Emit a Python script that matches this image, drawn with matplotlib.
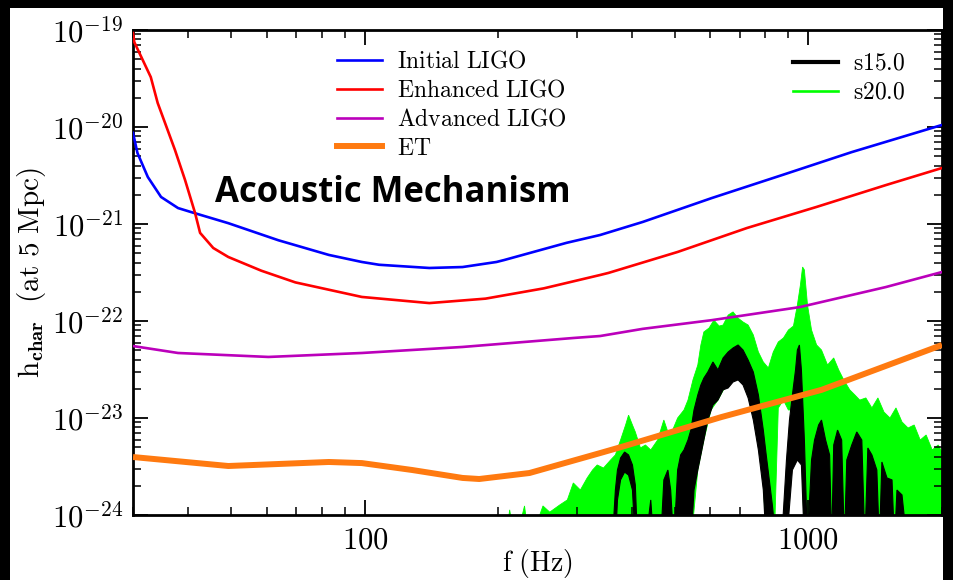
import math
import matplotlib
matplotlib.use('Agg')
import matplotlib.pyplot as plt
from matplotlib.lines import Line2D
from matplotlib.patches import Rectangle
from matplotlib.ticker import LogLocator, NullFormatter, FuncFormatter, FixedLocator

plt.rcParams['mathtext.fontset'] = 'cm'
plt.rcParams['font.family'] = ['DejaVu Serif']

# ---------------- data ----------------
x_ticks = [100, 1000]
y_ticks = [1e-24, 1e-23, 1e-22, 1e-21, 1e-20, 1e-19]

f_init = [30, 30.7, 32.4, 34.7, 37.9, 40.5, 49.2, 63.8, 82.9, 98.4, 107.6, 139.7,
          166, 198, 206, 285, 339, 423, 605, 873, 1250, 2000]
h_init = [8.7e-21, 5.4e-21, 3.05e-21, 1.9e-21, 1.46e-21, 1.33e-21, 1.02e-21, 6.8e-22,
          4.8e-22, 4.06e-22, 3.8e-22, 3.52e-22, 3.6e-22, 4.06e-22, 4.25e-22, 6.4e-22,
          7.7e-22, 1.05e-21, 1.85e-21, 3.2e-21, 5.5e-21, 1.05e-20]

f_enh = [30, 30.2, 32.9, 34.1, 37.3, 39.3, 41.4, 42.5, 45.5, 49.2, 58.4, 69.7, 98.4,
         139.7, 187, 253, 339, 354, 507, 727, 1043, 1495, 2000]
h_enh = [9.3e-20, 7.5e-20, 3.27e-20, 1.77e-20, 5.8e-21, 2.85e-21, 1.3e-21, 8.1e-22,
         5.66e-22, 4.57e-22, 3.3e-22, 2.5e-22, 1.77e-22, 1.53e-22, 1.7e-22, 2.17e-22,
         2.98e-22, 3.13e-22, 5.15e-22, 9.1e-22, 1.5e-21, 2.52e-21, 3.78e-21]

f_adv = [30, 37.9, 60.6, 98.4, 166, 295, 339, 423, 605, 955, 1495, 2000]
h_adv = [5.52e-23, 4.68e-23, 4.26e-23, 4.68e-23, 5.4e-23, 6.68e-23, 7.0e-23, 8.3e-23,
         1.02e-22, 1.39e-22, 2.24e-22, 3.2e-22]

f_et = [30, 49.2, 82.9, 98.4, 127.8, 166, 181, 235, 339, 377, 635, 1070, 2000]
h_et = [3.96e-24, 3.2e-24, 3.52e-24, 3.43e-24, 2.91e-24, 2.41e-24, 2.35e-24, 2.71e-24,
        4.35e-24, 5.0e-24, 1.02e-23, 1.95e-23, 5.66e-23]

# s20.0 spectrum: upper envelope (left->right) and lower envelope (right->left)
f_s20_top = [207, 212, 218, 229, 235, 252, 261, 275, 286, 295, 306, 317, 326, 334, 345,
             358, 367, 377, 387, 393, 401, 407, 418, 429, 441, 457, 472, 482, 494, 507,
             524, 535, 549, 563, 572, 581, 597, 612, 629, 642, 659, 676, 694, 712, 731,
             751, 771, 791, 812, 833, 855, 878, 901, 925, 944, 959, 970, 979, 995, 1016,
             1043, 1070, 1104, 1140, 1170, 1201, 1239, 1272, 1305, 1347, 1390, 1434,
             1480, 1527, 1575, 1625, 1677, 1731, 1786, 1842, 1901, 1961, 2000]
h_s20_top = [5e-25, 1.13e-24, 5e-25, 1.24e-24, 5e-25, 1.24e-24, 1.07e-24, 1.27e-24,
             1.43e-24, 2.14e-24, 1.81e-24, 2.41e-24, 2.91e-24, 3.28e-24, 3.05e-24,
             3.69e-24, 4.16e-24, 5.93e-24, 8.47e-24, 1.07e-23, 8.47e-24, 7.18e-24,
             4.91e-24, 5.27e-24, 4.68e-24, 5.93e-24, 9.53e-24, 7.18e-24, 7.51e-24,
             1.0e-23, 1.21e-23, 1.53e-23, 2.47e-23, 3.52e-23, 5.66e-23, 7.71e-23,
             8.47e-23, 1.02e-22, 8.87e-23, 9.09e-23, 1.15e-22, 1.24e-22, 1.07e-22,
             9.77e-23, 9.09e-23, 7.18e-23, 4.79e-23, 3.78e-23, 3.28e-23, 4.79e-23,
             6.08e-23, 6.68e-23, 8.07e-23, 8.87e-23, 1.46e-22, 2.35e-22, 3.6e-22,
             3.36e-22, 1.46e-22, 8.07e-23, 5.66e-23, 5.02e-23, 3.52e-23, 4.16e-23,
             3.13e-23, 2.47e-23, 1.95e-23, 1.73e-23, 1.53e-23, 1.61e-23, 1.27e-23,
             1.61e-23, 1.15e-23, 1.0e-23, 1.27e-23, 9.1e-24, 7.89e-24, 8.47e-24,
             5.93e-24, 6.68e-24, 4.68e-24, 5.27e-24, 4.46e-24]
f_s20_low = [2000, 1016, 979, 959, 925, 901, 878, 855, 837, 803, 791, 771, 751, 731,
             705, 680, 652, 625, 603, 581, 563, 543, 207]
h_s20_low = [5e-25, 5e-25, 5e-25, 1.5e-23, 1.21e-23, 1.21e-23, 1.53e-23, 1.27e-23,
             5e-25, 5e-25, 2.3e-24, 5.93e-24, 1.21e-23, 1.95e-23, 2.58e-23, 2.77e-23,
             2.19e-23, 1.53e-23, 1.21e-23, 5.93e-24, 2.91e-24, 5e-25, 5e-25]

# s15.0 spectrum
f_s15_top = [361, 367, 371, 377, 385, 393, 401, 407, 412, 429, 441, 448, 464, 472, 482,
             489, 497, 507, 515, 524, 535, 543, 552, 563, 572, 581, 593, 609, 625, 642,
             659, 676, 694, 712, 731, 751, 771, 791, 803, 816, 829, 846, 869, 892, 906,
             920, 935, 944, 954, 964, 979, 995, 1016, 1032, 1054, 1070, 1093, 1116,
             1128, 1140, 1163, 1188, 1205, 1220, 1252, 1285, 1319, 1340, 1361, 1390,
             1426, 1445, 1464, 1503, 1543, 1563, 1583, 1625, 1669]
h_s15_top = [5e-25, 1.81e-24, 2.91e-24, 3.87e-24, 4.46e-24, 4.16e-24, 3.28e-24, 2.04e-24,
             5e-25, 5e-25, 1.43e-24, 5e-25, 5e-25, 2.3e-24, 2.91e-24, 1.81e-24, 5e-25,
             2.91e-24, 4.16e-24, 4.68e-24, 5.93e-24, 7.51e-24, 1.21e-23, 1.73e-23,
             2.19e-23, 2.58e-23, 2.98e-23, 3.78e-23, 3.13e-23, 4.16e-23, 4.79e-23,
             5.27e-23, 5.66e-23, 5.02e-23, 3.96e-23, 2.98e-23, 1.73e-23, 7.51e-24,
             4.16e-24, 2.3e-24, 1.27e-24, 5e-25, 5e-25, 3.69e-24, 9.53e-24, 1.73e-23,
             3.13e-23, 5.02e-23, 5.66e-23, 3.13e-23, 5.93e-24, 5e-25, 3.69e-24,
             5.93e-24, 8.47e-24, 9.53e-24, 5.93e-24, 4.16e-24, 5e-25, 5.27e-24,
             7.51e-24, 5.93e-24, 5e-25, 3.69e-24, 5.27e-24, 7.18e-24, 5.93e-24, 5e-25,
             4.91e-24, 4.16e-24, 2.91e-24, 5e-25, 3.52e-24, 2.41e-24, 2.3e-24, 5e-25,
             1.81e-24, 1.61e-24, 5e-25]
f_s15_low = [1669, 995, 979, 964, 944, 920, 892, 829, 803, 791, 771, 751, 731, 712, 694,
             676, 659, 642, 625, 609, 593, 581, 572, 563, 552, 543, 407, 401, 393, 385,
             377, 371, 367, 361]
h_s15_low = [5e-25, 5e-25, 5e-25, 3.28e-24, 3.69e-24, 2.91e-24, 5e-25, 5e-25, 5e-25,
             1.81e-24, 4.68e-24, 9.53e-24, 1.61e-23, 2.19e-23, 2.47e-23, 2.35e-23,
             2.04e-23, 1.95e-23, 1.53e-23, 1.36e-23, 9.53e-24, 5.93e-24, 4.16e-24,
             2.91e-24, 1.81e-24, 5e-25, 5e-25, 1.81e-24, 2.58e-24, 2.77e-24, 2.3e-24,
             1.43e-24, 5e-25, 5e-25]

det_labels = [r'$\mathrm{Initial\ LIGO}$', r'$\mathrm{Enhanced\ LIGO}$',
              r'$\mathrm{Advanced\ LIGO}$', r'$\mathrm{ET}$']
sn_labels = [r'$\mathrm{s15.0}$', r'$\mathrm{s20.0}$']

c_blue, c_red, c_purple, c_orange = '#0000FF', '#FF0000', '#BB00BB', '#FF7A10'
c_green = '#00FF00'

# ---------------- figure ----------------
W, H = 954, 580
fig = plt.figure(figsize=(W / 100, H / 100), dpi=100, facecolor='white')
# black screen border (top, left, right strips)
for (x0, y0, w, h) in [(0, H - 8, W, 8), (0, 0, 10, H), (943, 0, W - 943, H)]:
    fig.add_artist(Rectangle((x0 / W, y0 / H), w / W, h / H, transform=fig.transFigure,
                             facecolor='black', edgecolor='none', zorder=10))

ax = fig.add_axes([133 / W, 65 / H, (942 - 133) / W, (515 - 30) / H])
ax.set_facecolor('white')

ax.fill(f_s20_top + f_s20_low, h_s20_top + h_s20_low, color=c_green, lw=0.6, zorder=1)
ax.fill(f_s15_top + f_s15_low, h_s15_top + h_s15_low, color='black', lw=0.8, zorder=2)

ax.plot(f_init, h_init, color=c_blue, lw=1.9, zorder=4)
ax.plot(f_enh, h_enh, color=c_red, lw=1.9, zorder=4)
ax.plot(f_adv, h_adv, color=c_purple, lw=1.9, zorder=4)
ax.plot(f_et, h_et, color=c_orange, lw=4.3, zorder=5, solid_capstyle='butt')

ax.set_xscale('log')
ax.set_yscale('log')
ax.set_xlim(30, 2000)
ax.set_ylim(1e-24, 1e-19)

ax.xaxis.set_major_locator(FixedLocator(x_ticks))
ax.xaxis.set_minor_locator(LogLocator(base=10, subs=range(2, 10)))
ax.xaxis.set_minor_formatter(NullFormatter())
ax.xaxis.set_major_formatter(FuncFormatter(lambda v, p: r'$\mathrm{%d}$' % round(v)))
ax.yaxis.set_major_locator(FixedLocator(y_ticks))
ax.yaxis.set_minor_locator(LogLocator(base=10, subs=range(2, 10)))
ax.yaxis.set_minor_formatter(NullFormatter())
ax.yaxis.set_major_formatter(FuncFormatter(lambda v, p: r'$10^{%d}$' % round(math.log10(v))))

ax.tick_params(which='both', direction='in', top=True, right=True, labelsize=22)
ax.tick_params(which='major', length=11, width=1.3, pad=7)
ax.tick_params(which='minor', length=6, width=1.1)
for s in ax.spines.values():
    s.set_linewidth(2.0)

ax.set_xlabel(r'$\mathrm{f\ (Hz)}$', fontsize=20, labelpad=-6)
ax.set_ylabel(r'$\mathrm{h}_{\mathbf{char}}\ \ \mathrm{(at\ 5\ Mpc)}$', fontsize=21, labelpad=3)

h1 = [Line2D([], [], color=c_blue, lw=1.9), Line2D([], [], color=c_red, lw=1.9),
      Line2D([], [], color=c_purple, lw=1.9), Line2D([], [], color=c_orange, lw=4.3)]
leg1 = ax.legend(h1, det_labels, loc='upper left', bbox_to_anchor=(337 / W, 1 - 50 / H),
                 bbox_transform=fig.transFigure, frameon=False, fontsize=17,
                 handlelength=1.9, handletextpad=0.64, labelspacing=0.25,
                 borderpad=0, borderaxespad=0)
ax.add_artist(leg1)
h2 = [Line2D([], [], color='black', lw=3.0), Line2D([], [], color=c_green, lw=1.9)]
ax.legend(h2, sn_labels, loc='upper left', bbox_to_anchor=(793 / W, 1 - 52 / H),
          bbox_transform=fig.transFigure, frameon=False, fontsize=17,
          handlelength=1.9, handletextpad=0.64, labelspacing=0.25,
          borderpad=0, borderaxespad=0)

fig.text(215 / W, 1 - 193 / H, 'Acoustic Mechanism', fontsize=25, fontweight='bold',
         family=['Open Sans', 'DejaVu Sans'], ha='left', va='center', color='black')

fig.savefig('out.png', dpi=100, facecolor=fig.get_facecolor())
